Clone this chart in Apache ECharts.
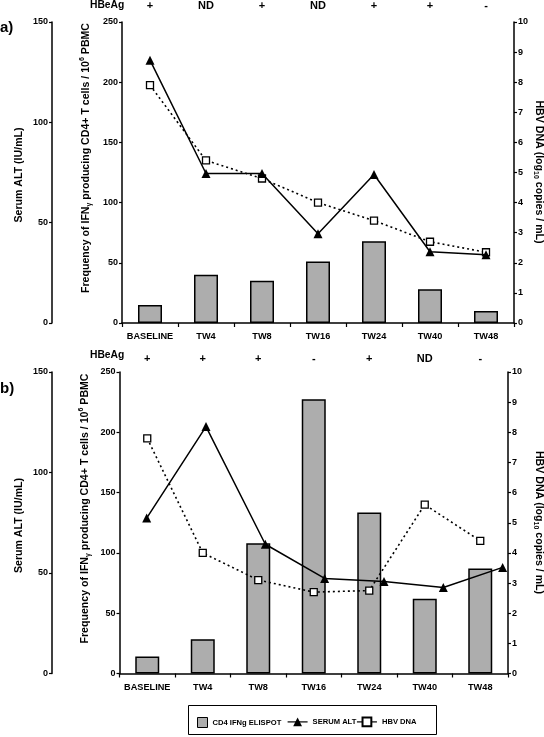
<!DOCTYPE html>
<html><head><meta charset="utf-8">
<script src="https://cdn.jsdelivr.net/npm/echarts@6/dist/echarts.min.js"></script>
<style>html,body{margin:0;padding:0;background:#fff}#c{width:544px;height:737px}</style>
</head><body><div id="c"></div>
<script>
// ---------- data ----------
const categories = ['BASELINE', 'TW4', 'TW8', 'TW16', 'TW24', 'TW40', 'TW48'];
const hbeagA = ['+', 'ND', '+', 'ND', '+', '+', '-'];
const hbeagB = ['+', '+', '+', '-', '+', 'ND', '-'];
const elispotA = [15, 40, 35, 51, 68, 28, 10];
const altA = [131, 74.5, 74.5, 44.5, 74, 35.5, 34];
const hbvA = [7.9, 5.4, 4.8, 4.0, 3.4, 2.7, 2.35];
const elispotB = [14, 28.5, 108, 227.5, 133.5, 62, 87];
const altB = [77.5, 123, 64.5, 47.5, 46, 43, 53];
const hbvB = [7.8, 4.0, 3.1, 2.7, 2.75, 5.6, 4.4];
const altRange = [0, 150, 50];
const freqRange = [0, 250, 50];
const hbvRange = [0, 10, 1];
const seriesNames = ['CD4 IFNg ELISPOT', 'SERUM ALT', 'HBV DNA'];

// ---------- styling ----------
const FONT = '"Liberation Sans", Arial, sans-serif';
const K = '#000';
const BAR = '#adadad';

function valAxis(gridIndex, position, offset, range, show) {
  return {
    type: 'value', gridIndex, position, offset,
    min: range[0], max: range[1], interval: range[2], show: show !== false,
    splitLine: { show: false },
    axisLine: { show: true, lineStyle: { color: K, width: 1.5 } },
    axisTick: { show: true, inside: false, length: 3, lineStyle: { color: K, width: 1.2 } },
    axisLabel: { color: K, fontFamily: FONT, fontWeight: 'bold', fontSize: 9, margin: 4 }
  };
}
function catAxis(gridIndex) {
  return {
    type: 'category', gridIndex, position: 'bottom', data: categories, boundaryGap: true,
    axisLine: { show: true, lineStyle: { color: K, width: 1.5 } },
    axisTick: { show: true, length: 4, lineStyle: { color: K, width: 1.2 } },
    axisLabel: { interval: 0, color: K, fontFamily: FONT, fontWeight: 'bold', fontSize: 9.2, margin: 9 }
  };
}
function topAxis(gridIndex, labels, margin) {
  return {
    type: 'category', gridIndex, position: 'top', data: categories, boundaryGap: true,
    axisLine: { show: false }, axisTick: { show: false },
    axisLabel: { interval: 0, color: K, fontFamily: FONT, fontWeight: 'bold', fontSize: 11, margin,
      formatter: (v, i) => labels[i] }
  };
}
function barSeries(x, y, data) {
  return { name: seriesNames[0], type: 'bar', xAxisIndex: x, yAxisIndex: y, data, barWidth: 24,
    itemStyle: { color: BAR, borderColor: K, borderWidth: 1.5 } };
}
function altSeries(x, y, data) {
  return { name: seriesNames[1], type: 'line', xAxisIndex: x, yAxisIndex: y, data,
    symbol: 'triangle', symbolSize: 9, showAllSymbol: true, z: 4,
    itemStyle: { color: K }, lineStyle: { color: K, width: 1.5 } };
}
function hbvSeries(x, y, data) {
  return { name: seriesNames[2], type: 'line', xAxisIndex: x, yAxisIndex: y, data,
    symbol: 'rect', symbolSize: 7, showAllSymbol: true, z: 3,
    itemStyle: { color: '#fff', borderColor: K, borderWidth: 1.3 },
    lineStyle: { color: K, width: 1.6, type: [2, 3] } };
}
function label(text, x, y, size, align) {
  return { type: 'text', x, y, style: { text, font: 'bold ' + size + 'px ' + FONT, fill: K,
    align: align || 'left', verticalAlign: 'middle', textAlign: align || 'left', textVerticalAlign: 'middle' } };
}
function rotText(text, rich, x, y, rot) {
  return { type: 'text', x, y, rotation: rot, style: { text, rich, fill: K,
    align: 'center', verticalAlign: 'middle', textAlign: 'center', textVerticalAlign: 'middle' } };
}
const base = { fontFamily: FONT, fontWeight: 'bold', fill: K, color: K };
const rich = {
  t: Object.assign({ fontSize: 10.6, lineHeight: 14 }, base),
  s: Object.assign({ fontSize: 7, lineHeight: 14, verticalAlign: 'bottom' }, base),
  p: Object.assign({ fontSize: 7, lineHeight: 14, verticalAlign: 'top' }, base)
};
const altName = '{t|Serum ALT (IU/mL)}';
const freqName = '{t|Frequency of IFN}{s|γ}{t| producing CD4+ T cells / 10}{p|6}{t| PBMC}';
const hbvName = '{t|HBV DNA (log}{s|10}{t| copies / mL)}';

function panelGraphics(dy, freqX) {
  return [
    rotText(altName, rich, 19, 175 + dy, Math.PI / 2),
    rotText(freqName, rich, freqX, 158 + dy, Math.PI / 2),
    rotText(hbvName, rich, 539, 172 + dy, -Math.PI / 2),
    label('HBeAg', 90, 5 + dy, 10.3)
  ];
}

const option = {
  backgroundColor: '#fff',
  animation: false,
  grid: [
    { left: 122, top: 22, width: 392, height: 301 },
    { left: 119.5, top: 372, width: 388.5, height: 301.5 },
    { left: 117, top: 372.3, width: 415.3, height: 301.7 }
  ],
  xAxis: [
    catAxis(0),
    topAxis(0, hbeagA, 11),
    catAxis(1),
    topAxis(1, hbeagB, 8),
    { type: 'category', gridIndex: 2, data: categories, boundaryGap: true, show: false }
  ],
  yAxis: [
    valAxis(0, 'left', 70, altRange),
    valAxis(0, 'left', 0, freqRange),
    valAxis(0, 'right', 0, hbvRange),
    valAxis(1, 'left', 67.5, altRange),
    valAxis(1, 'left', 0, freqRange),
    valAxis(1, 'right', 0, hbvRange),
    valAxis(2, 'left', 0, altRange, false)
  ],
  legend: [
    { left: 197, top: 717, itemWidth: 10, itemHeight: 10, padding: 0, selectedMode: false,
      data: [{ name: seriesNames[0], icon: 'rect' }],
      itemStyle: { borderColor: K, borderWidth: 1 },
      textStyle: { color: K, fontFamily: FONT, fontWeight: 'bold', fontSize: 7.6 } },
    { left: 287, top: 716.5, itemWidth: 20, itemHeight: 11, itemGap: 0, padding: 0, selectedMode: false,
      data: [{ name: seriesNames[1] }, { name: seriesNames[2], lineStyle: { type: 'solid', width: 1.2 } }],
      lineStyle: { width: 1.2 },
      textStyle: { color: K, fontFamily: FONT, fontWeight: 'bold', fontSize: 7.6 } }
  ],
  graphic: [
    label('a)', 0, 28, 15),
    label('b)', 0, 389, 15),
    ...panelGraphics(0, 86),
    ...panelGraphics(350.5, 85),
    { type: 'rect', shape: { x: 188.5, y: 705.5, width: 248, height: 29 },
      style: { fill: 'none', stroke: K, lineWidth: 1 } }
  ],
  series: [
    barSeries(0, 1, elispotA),
    hbvSeries(0, 2, hbvA),
    altSeries(0, 0, altA),
    barSeries(2, 4, elispotB),
    hbvSeries(2, 5, hbvB),
    altSeries(4, 6, altB)
  ]
};
const chart = echarts.init(document.getElementById('c'), null, { renderer: 'canvas' });
chart.setOption(option);
</script>
</body></html>
